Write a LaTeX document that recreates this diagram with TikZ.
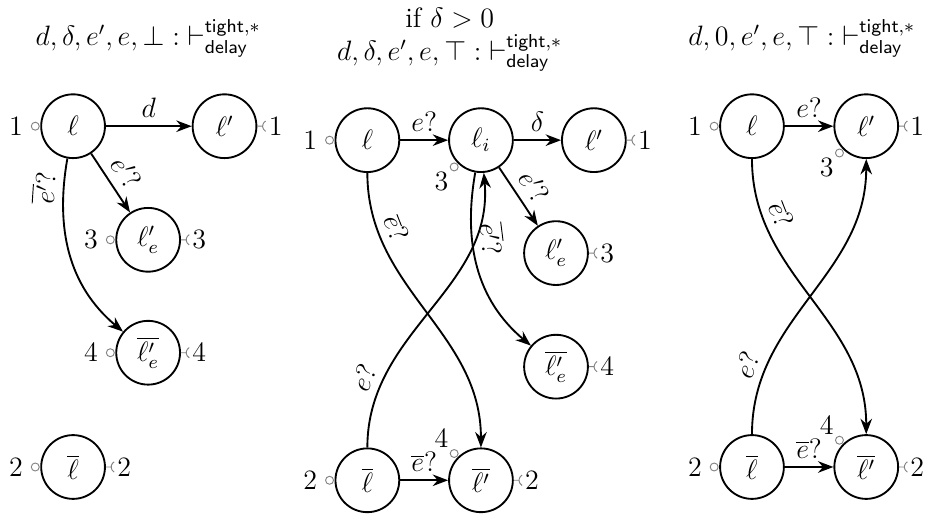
\documentclass[tikz,border=0pt]{standalone}
\usetikzlibrary{arrows.meta, calc}
\definecolor{portgray}{RGB}{130,130,130}

\begin{document}
\begin{tikzpicture}[
        >=Stealth,
        font=\large,
        loc/.style={circle, draw, thick, minimum size=0.96cm, inner sep=0pt},
        arrow/.style={->, thick},
        ball/.style={circle, draw=portgray, thin, minimum size=0.12cm, inner sep=0pt},
        port/.style={draw=portgray, thin},
        portnum/.style={inner sep=1pt},
        caption/.style={inner sep=0pt, align=center, anchor=south}
    ]
    \useasboundingbox (0,0) rectangle (14.0,-7.8);

    %% --- Captions ---
    \node[caption] (cap1) at (2.23,-0.86)
        {$d,\delta,e',e,\bot:\mathord{\vdash}^{\mathsf{tight},*}_{\mathsf{delay}}$};
    \node[caption] (cap2) at (6.77,-1.08)
        {if $\delta>0$\\ $d,\delta,e',e,\top:\mathord{\vdash}^{\mathsf{tight},*}_{\mathsf{delay}}$};
    \node[caption] (cap3) at (12.07,-0.86)
        {$d,0,e',e,\top:\mathord{\vdash}^{\mathsf{tight},*}_{\mathsf{delay}}$};

    %% --- Left panel ---
    \node[loc] (l1)   at (1.10,-1.90) {$\ell$};
    \node[loc] (l1p)  at (3.38,-1.90) {$\ell'$};
    \node[loc] (l1e)  at (2.23,-3.61) {$\ell'_e$};
    \node[loc] (l1eb) at (2.23,-5.31) {$\overline{\ell'_e}$};
    \node[loc] (l1b)  at (1.10,-7.03) {$\overline{\ell}$};

    \draw[arrow] (l1) -- node[above] (l1-d) {$d$} (l1p);
    \draw[arrow] (l1) -- node[above, sloped] (l1-ep) {$e'?$} (l1e);
    \draw[arrow] (l1) to[out=-100, in=140]
        node[pos=0.15, above, sloped] (l1-epb) {$\overline{e'}?$} (l1eb);

    %% --- Middle panel ---
    \node[loc] (l2)   at (5.53,-2.11) {$\ell$};
    \node[loc] (l2i)  at (7.24,-2.11) {$\ell_i$};
    \node[loc] (l2p)  at (8.94,-2.11) {$\ell'$};
    \node[loc] (l2e)  at (8.37,-3.81) {$\ell'_e$};
    \node[loc] (l2eb) at (8.37,-5.52) {$\overline{\ell'_e}$};
    \node[loc] (l2b)  at (5.53,-7.23) {$\overline{\ell}$};
    \node[loc] (l2pb) at (7.24,-7.23) {$\overline{\ell'}$};

    \draw[arrow] (l2)  -- node[above] (l2-e) {$e?$} (l2i);
    \draw[arrow] (l2i) -- node[above] (l2-dl) {$\delta$} (l2p);
    \draw[arrow] (l2i) -- node[above, sloped] (l2-ep) {$e'?$} (l2e);
    \draw[arrow] (l2i) to[out=-100, in=140]
        node[pos=0.35, above, sloped] (l2-epb) {$\overline{e'}?$} (l2eb);
    \draw[arrow] (l2) to[out=-90, in=90]
        node[pos=0.2, above, sloped] (l2-eb) {$\overline{e}?$} (l2pb);
    \draw[arrow] (l2b) to[out=90, in=-85]
        node[pos=0.2, above, sloped] (l2-up) {$e?$} (l2i);
    \draw[arrow] (l2b) -- node[above] (l2-ebb) {$\overline{e}?$} (l2pb);

    %% --- Right panel ---
    \node[loc] (l3)   at (11.32,-1.90) {$\ell$};
    \node[loc] (l3p)  at (13.04,-1.90) {$\ell'$};
    \node[loc] (l3b)  at (11.32,-7.03) {$\overline{\ell}$};
    \node[loc] (l3pb) at (13.04,-7.03) {$\overline{\ell'}$};

    \draw[arrow] (l3) -- node[above] (l3-e) {$e?$} (l3p);
    \draw[arrow] (l3) to[out=-90, in=90]
        node[pos=0.2, above, sloped] (l3-eb) {$\overline{e}?$} (l3pb);
    \draw[arrow] (l3b) to[out=90, in=-90]
        node[pos=0.2, above, sloped] (l3-up) {$e?$} (l3p);
    \draw[arrow] (l3b) -- node[above] (l3-ebb) {$\overline{e}?$} (l3pb);

    %% --- Ports: balls on the left ---
    \foreach \s/\t in {l1/1, l1e/3, l1eb/4, l1b/2, l2/1, l2b/2, l3/1, l3b/2} {
        \node[ball] (\s-pin) at ($(\s.west)+(-0.075,0)$) {};
        \node[portnum, anchor=east] (\s-lnum) at ($(\s.west)+(-0.22,0)$) {$\t$};
    }

    %% --- Ports: sockets on the right ---
    \foreach \s/\t in {l1p/1, l1e/3, l1eb/4, l1b/2, l2p/1, l2e/3, l2eb/4, l2pb/2, l3p/1, l3pb/2} {
        \draw[port] (\s.east) -- ++(0.08,0) ++(0.045,0.078)
            arc[start angle=120, end angle=240, radius=0.09];
        \node[portnum, anchor=west] (\s-rnum) at ($(\s.east)+(0.13,0)$) {$\t$};
    }

    %% --- Ports: balls at an angle ---
    \foreach \s/\a/\t/\p in {l2i/-135/3/north east, l3p/-135/3/north east,
                             l2pb/135/4/south east, l3pb/135/4/south east} {
        \node[ball] (\s-pin) at ($(\s.center)+(\a:0.57)$) {};
        \node[portnum, anchor=\p] (\s-anum) at (\s-pin.\a) {$\t$};
    }
\end{tikzpicture}
\end{document}
